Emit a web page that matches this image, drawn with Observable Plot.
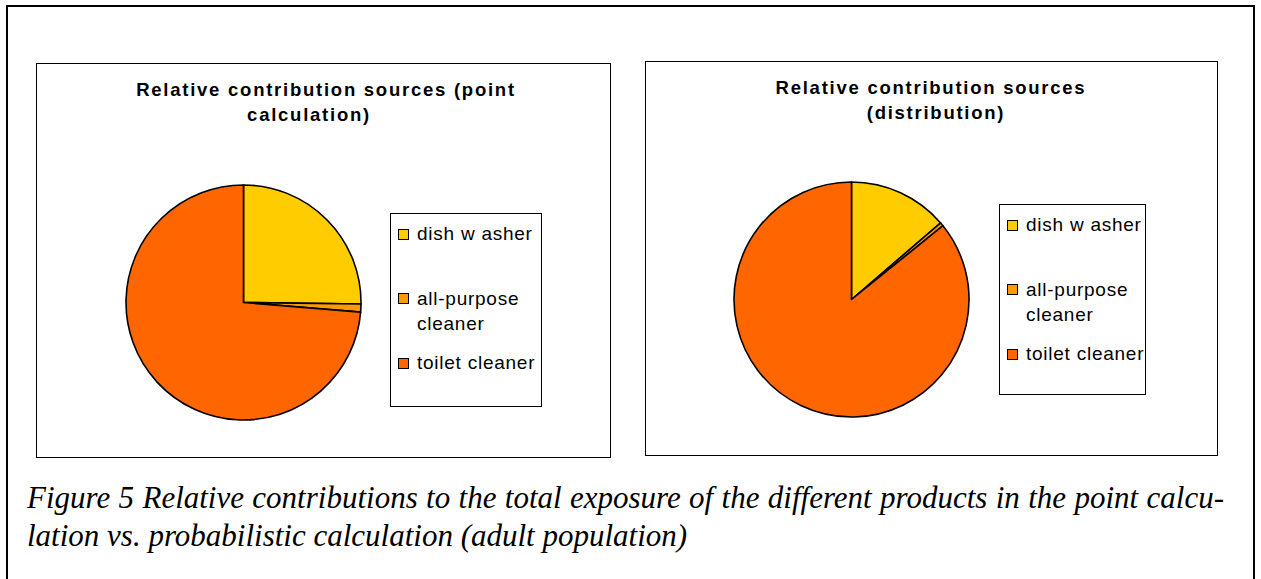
<!DOCTYPE html>
<html>
<head>
<meta charset="utf-8">
<script src="https://cdn.jsdelivr.net/npm/d3@7"></script>
<script src="https://cdn.jsdelivr.net/npm/@observablehq/plot@0.6"></script>
<style>
  html, body { margin: 0; padding: 0; background: #fff; }
  #page { position: relative; width: 1261px; height: 579px; overflow: hidden; background: #fff; }
  .frame { position: absolute; border: 2px solid #000; box-sizing: border-box; }
  .panel { position: absolute; border: 1px solid #000; box-sizing: border-box; background: #fff; }
  .title { position: absolute; width: 500px; text-align: center; white-space: nowrap;
           font-family: "Liberation Sans", Arial, sans-serif; font-weight: bold; font-size: 18.5px;
           letter-spacing: 1.75px; line-height: 1; color: #000; }
  .legend { position: absolute; border: 1px solid #000; box-sizing: border-box; background: #fff; }
  .swatch { position: absolute; width: 11px; height: 11px; border: 1px solid #000; box-sizing: border-box; }
  .label { position: absolute; white-space: nowrap; font-family: "Liberation Sans", Arial, sans-serif;
           font-size: 19px; letter-spacing: 0.75px; line-height: 1; color: #000; }
  .caption { position: absolute; font-family: "Liberation Serif", "Times New Roman", serif;
             font-style: italic; font-size: 31px; line-height: 1; color: #000; }
  .pie { position: absolute; }
</style>
</head>
<body>
<div id="page"></div>
<script>
// Product categories and their relative contribution (%) to total exposure
const categories = ["dish w asher", "all-purpose cleaner", "toilet cleaner"];
const legendLines = [["dish w asher"], ["all-purpose", "cleaner"], ["toilet cleaner"]];
const pointShares = [25.2, 1.1, 73.7];
const distributionShares = [13.7, 0.5, 85.8];
const sliceColors = ["#FFCC00", "#FF9900", "#FF6600"];

const titlePoint = ["Relative contribution sources (point", "calculation)"];
const titleDistribution = ["Relative contribution sources", "(distribution)"];
const captionLines = [
  "Figure 5 Relative contributions to the total exposure of the different products in the point calcu-",
  "lation vs. probabilistic calculation (adult population)"
];

const page = document.getElementById("page");

function el(cls, style, parent = page) {
  const d = document.createElement("div");
  d.className = cls;
  Object.assign(d.style, style);
  parent.appendChild(d);
  return d;
}

// Pie chart: one dot per slice anchored at the origin, rendered as an arc wedge.
function pie(shares, radius) {
  const data = categories.map((category, i) => ({category, share: shares[i]}));
  const arcs = d3.pie().sort(null).value((d) => d.share)(data);
  const pad = 3;
  const size = 2 * (radius + pad);
  return Plot.plot({
    width: size,
    height: size,
    margin: pad,
    x: {domain: [-1, 1], axis: null},
    y: {domain: [-1, 1], axis: null},
    color: {type: "ordinal", domain: categories, range: sliceColors},
    marks: [
      Plot.dot(data, {
        x: () => 0,
        y: () => 0,
        fill: "category",
        render(index, scales, values) {
          const r = scales.x(1) - scales.x(0);
          const g = d3.create("svg:g");
          for (const i of index) {
            g.append("path")
              .attr("transform", `translate(${values.x[i]},${values.y[i]})`)
              .attr("d", d3.arc()({innerRadius: 0, outerRadius: r,
                                   startAngle: arcs[i].startAngle, endAngle: arcs[i].endAngle}))
              .attr("fill", values.fill[i])
              .attr("stroke", "#000")
              .attr("stroke-width", 1.6)
              .attr("stroke-linejoin", "round");
          }
          return g.node();
        }
      })
    ]
  });
}

function legend(plot, box) {
  const color = plot.scale("color");
  const lg = el("legend", {left: box.x + "px", top: box.y + "px", width: box.w + "px", height: box.h + "px"});
  const swatchTops = [14.5, 79, 143.5];
  const baselines = [26, 91.5, 155];
  color.domain.forEach((name, i) => {
    el("swatch", {left: "7px", top: swatchTops[i] + "px", background: color.range[i]}, lg);
    legendLines[i].forEach((line, k) => {
      const t = el("label", {left: "26px", top: (baselines[i] + k * 25 - 16.1) + "px"}, lg);
      t.textContent = line;
    });
  });
}

function panel(spec) {
  el("panel", {left: spec.x + "px", top: spec.y + "px", width: spec.w + "px", height: spec.h + "px"});
  spec.title.forEach((line, k) => {
    const t = el("title", {left: (spec.titleCenters[k] - 250) + "px", top: (spec.titleBaselines[k] - 15.7) + "px"});
    t.textContent = line;
  });
  const radius = 117.5;
  const chart = pie(spec.shares, radius);
  const holder = el("pie", {left: (spec.cx - radius - 3) + "px", top: (spec.cy - radius - 3) + "px"});
  holder.appendChild(chart);
  legend(chart, spec.legend);
}

// outer figure frame
el("frame", {left: "6px", top: "5px", width: "1249px", height: "620px"});

panel({
  x: 36, y: 63, w: 575, h: 395,
  title: titlePoint, titleCenters: [326, 309], titleBaselines: [97, 122],
  shares: pointShares, cx: 243.3, cy: 302.3,
  legend: {x: 390, y: 213, w: 152, h: 194}
});

panel({
  x: 645, y: 61, w: 573, h: 395,
  title: titleDistribution, titleCenters: [931, 936], titleBaselines: [95, 120],
  shares: distributionShares, cx: 851.3, cy: 299.4,
  legend: {x: 999, y: 204, w: 147, h: 191}
});

captionLines.forEach((line, k) => {
  const c = el("caption", {left: "27px", top: (508 + k * 38 - 26) + "px"});
  c.textContent = line;
  if (k === 0) {
    c.style.width = "1197px";
    c.style.textAlign = "justify";
    c.style.textAlignLast = "justify";
    c.style.whiteSpace = "nowrap";
  } else {
    c.style.whiteSpace = "nowrap";
  }
});
</script>
</body>
</html>
